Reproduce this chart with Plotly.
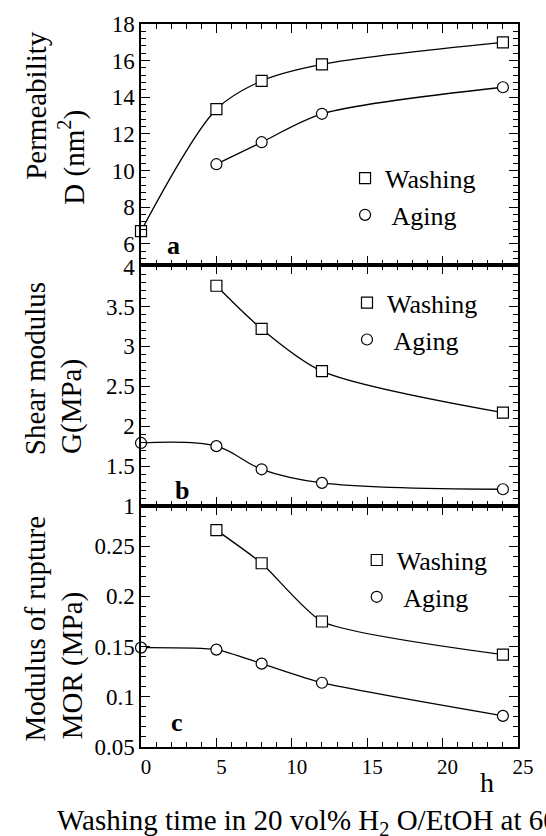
import plotly.graph_objects as go
from plotly.subplots import make_subplots

# ---------------- data ----------------
x_wash_a = [0, 5, 8, 12, 24]
perm_wash = [6.7, 13.35, 14.9, 15.8, 17.0]
x_age_a = [5, 8, 12, 24]
perm_age = [10.35, 11.55, 13.1, 14.55]

x_wash_bc = [5, 8, 12, 24]
x_age_bc = [0, 5, 8, 12, 24]
shear_wash = [3.76, 3.22, 2.69, 2.17]
shear_age = [1.79, 1.75, 1.46, 1.29, 1.21]
mor_wash = [0.266, 0.233, 0.175, 0.142]
mor_age = [0.149, 0.147, 0.133, 0.114, 0.081]

series_names = ["Washing", "\u00a0Aging"]
x_ticks = [0, 5, 10, 15, 20, 25]

FONT = "Liberation Serif, Times New Roman, serif"
W, H = 546, 836
L, R, T, B = 141, 17, 22, 89
PW = W - L - R
PH = H - T - B

def px_x(p):
    return (p - L) / PW

def px_y(p):
    return (H - B - p) / PH

fig = make_subplots(rows=3, cols=1, shared_xaxes=True, vertical_spacing=0)

sq = dict(symbol="square", size=11, color="white", line=dict(color="black", width=1.2))
ci = dict(symbol="circle", size=11, color="white", line=dict(color="black", width=1.2))

def ln(s):
    return dict(color="black", width=1.3, shape="spline", smoothing=s)

panels = [
    (1, x_wash_a, perm_wash, x_age_a, perm_age, "legend", 0.9, 0.8),
    (2, x_wash_bc, shear_wash, x_age_bc, shear_age, "legend2", 0.8, 1.0),
    (3, x_wash_bc, mor_wash, x_age_bc, mor_age, "legend3", 0.55, 0.6),
]
for row, xw, yw, xa, ya, lg, sw, sa in panels:
    fig.add_trace(go.Scatter(x=xw, y=yw, mode="lines+markers", marker=sq, line=ln(sw),
                             showlegend=False, cliponaxis=False), row=row, col=1)
    fig.add_trace(go.Scatter(x=xa, y=ya, mode="lines+markers", marker=ci, line=ln(sa),
                             showlegend=False, cliponaxis=False), row=row, col=1)
    fig.add_trace(go.Scatter(x=[None], y=[None], mode="markers", marker=sq,
                             name=series_names[0], legend=lg), row=row, col=1)
    fig.add_trace(go.Scatter(x=[None], y=[None], mode="markers", marker=ci,
                             name=series_names[1], legend=lg), row=row, col=1)

axis_common = dict(showline=True, linecolor="black", linewidth=1.5, mirror="ticks",
                   ticks="inside", ticklen=9, tickwidth=1.2, tickcolor="black",
                   showgrid=False, zeroline=False,
                   tickfont=dict(family=FONT, size=23, color="black"))

for row in (1, 2, 3):
    fig.update_xaxes(range=[0, 25], tickvals=x_ticks, ticktext=[str(v) for v in x_ticks],
                     minor=dict(dtick=1, ticks="inside", ticklen=5, tickcolor="black", tickwidth=1),
                     **axis_common, row=row, col=1)
fig.update_xaxes(showticklabels=True, ticklabelshift=5, row=3, col=1,
                 tickfont=dict(family=FONT, size=21, color="black"))

fig.update_yaxes(range=[4.85, 18], dtick=2, tick0=0,
                 minor=dict(dtick=0.4, tick0=0, ticks="inside", ticklen=5, tickcolor="black", tickwidth=1),
                 **axis_common, row=1, col=1)
fig.update_yaxes(range=[1, 4.02], dtick=0.5, tick0=0,
                 minor=dict(dtick=0.1, tick0=0, ticks="inside", ticklen=5, tickcolor="black", tickwidth=1),
                 **axis_common, row=2, col=1)
fig.update_yaxes(range=[0.05, 0.29], dtick=0.05, tick0=0,
                 minor=dict(dtick=0.01, tick0=0, ticks="inside", ticklen=5, tickcolor="black", tickwidth=1),
                 **axis_common, row=3, col=1)

leg_common = dict(font=dict(family=FONT, size=26, color="black"), bgcolor="rgba(0,0,0,0)",
                  borderwidth=0, xanchor="left", yanchor="top", itemwidth=30, tracegroupgap=0)
fig.update_layout(
    legend=dict(x=px_x(351), y=px_y(153), **leg_common),
    legend2=dict(x=px_x(353), y=px_y(278), **leg_common),
    legend3=dict(x=px_x(363), y=px_y(536), **leg_common),
)

annots = []
# y-axis titles (two lines each)
ytitles = [
    ("Permeability", 33, 104), ("D (nm<sup>2</sup>)", 70, 156),
    ("Shear modulus", 32, 368), ("G(MPa)", 70, 406),
    ("Modulus of rupture", 32, 628), ("MOR (MPa)", 70, 666),
]
for txt, xp, yp in ytitles:
    annots.append(dict(text=txt, x=px_x(xp), y=px_y(yp), xref="paper", yref="paper",
                       textangle=-90, showarrow=False, xanchor="center", yanchor="middle",
                       font=dict(family=FONT, size=29, color="black")))
# panel letters
for txt, xp, yp in [("a", 174, 244), ("b", 183, 490), ("c", 178, 722)]:
    annots.append(dict(text="<b>%s</b>" % txt, x=px_x(xp), y=px_y(yp), xref="paper", yref="paper",
                       showarrow=False, xanchor="center", yanchor="middle",
                       font=dict(family=FONT, size=26, color="black")))
# unit label
annots.append(dict(text="h", x=px_x(497), y=px_y(783), xref="paper", yref="paper",
                   showarrow=False, xanchor="center", yanchor="middle",
                   font=dict(family=FONT, size=28, color="black")))
# x title (cut at the right edge, as in the source figure)
annots.append(dict(text="Washing time in 20 vol% H<sub>2</sub> O/EtOH at 60\u00b0C",
                   x=px_x(52), y=px_y(822), xref="paper", yref="paper",
                   showarrow=False, xanchor="left", yanchor="middle",
                   font=dict(family=FONT, size=29, color="black")))

fig.update_layout(width=W, height=H, margin=dict(l=L, r=R, t=T, b=B),
                  plot_bgcolor="white", paper_bgcolor="white",
                  font=dict(family=FONT, color="black"),
                  annotations=annots)

fig.write_html("out.html")
